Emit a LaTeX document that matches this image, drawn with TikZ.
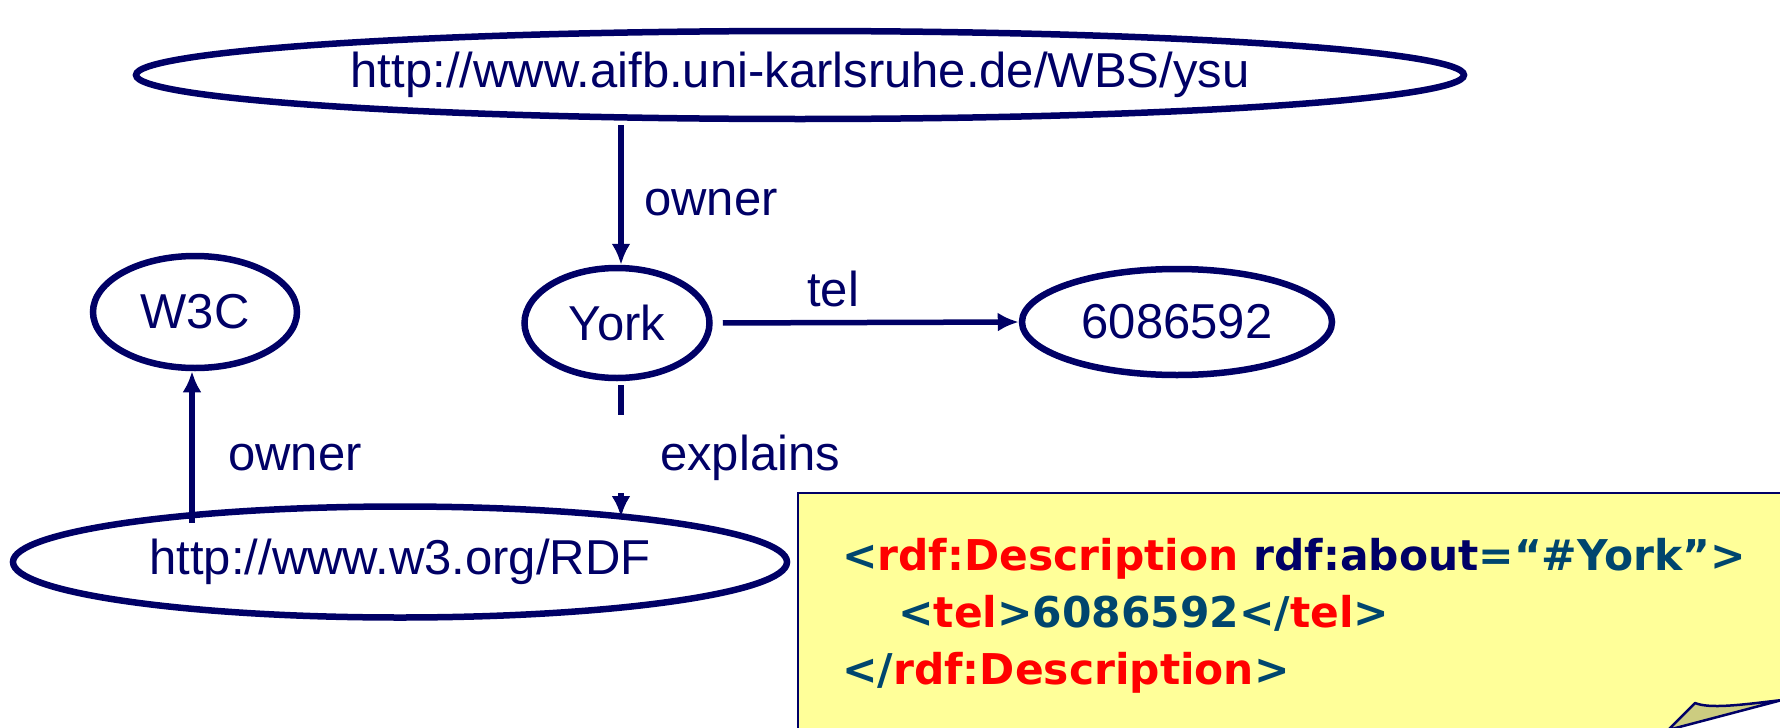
\documentclass[tikz,border=0pt]{standalone}
\usepackage{xcolor}
\usepackage{fontspec}
\setmainfont{Liberation Sans}
\newfontfamily\xmlfont{DejaVu Sans}
\usepackage{tikz}
\usetikzlibrary{shapes}
\usetikzlibrary{arrows.meta}
\usetikzlibrary{calc}

\definecolor{rdfnavy}{RGB}{0,0,102}
\definecolor{xmlteal}{RGB}{0,70,110}
\definecolor{xmlred}{RGB}{255,0,0}
\definecolor{noteyellow}{RGB}{255,255,153}
\definecolor{curlolive}{RGB}{204,204,128}

\begin{document}
\begin{tikzpicture}[x=1pt,y=-1pt,
  res/.style={ellipse,draw=rdfnavy,line width=6.5pt,inner sep=0pt,text=rdfnavy,font=\fontsize{49}{58}\selectfont},
  prop/.style={draw=rdfnavy,line width=5.5pt,-{Latex[length=21pt,width=19pt]}},
  proplabel/.style={anchor=base west,inner sep=0pt,text=rdfnavy,font=\fontsize{49}{58}\selectfont},
  xmlline/.style={anchor=base west,inner sep=0pt,font=\xmlfont\bfseries\fontsize{42.4}{57}\selectfont}]

\useasboundingbox (0,0) rectangle (1780,728);

%RESOURCES
\node[res,minimum width=1328pt,minimum height=88pt](ysu-node) at(800,75){http://www.aifb.uni-karlsruhe.de/WBS/ysu};
\node[res,minimum width=185pt,minimum height=110pt](York-node) at(617,323){York};
\node[res,minimum width=310pt,minimum height=106pt](tel-node) at(1177,322){6086592};
\node[res,minimum width=204pt,minimum height=112pt](W3C-node) at(195,312){W3C};
\node[res,minimum width=774pt,minimum height=111pt](RDF-node) at(400,562){http://www.w3.org/RDF};

%PROPERTIES
\coordinate (ysu-out) at (621,125);
\draw[prop] (ysu-out) -- (ysu-out |- York-node.north);
\draw[prop,shorten <=10pt] (York-node.east) -- (tel-node.west);
\coordinate (rdf-in) at (621,517);
\draw[prop,shorten <=4pt,dash pattern=on 30pt off 78pt on 60pt] (York-node.south -| rdf-in) -- (rdf-in);
\coordinate (rdf-out) at (192,523);
\draw[prop] (rdf-out) -- (rdf-out |- W3C-node.south);

%LABELs
\node[proplabel](owner-top-label) at(644,215){owner};
\node[proplabel](tel-label) at(807,306){tel};
\node[proplabel](owner-left-label) at(228,470){owner};
\node[proplabel](explains-label) at(660,470){explains};

%XML NOTE
\draw[fill=noteyellow,draw=rdfnavy,line width=2.5pt] (798,493) rectangle (1786,734);
\node[xmlline](xml-line1) at(842,570){\textcolor{xmlteal}{<}\textcolor{xmlred}{rdf:Description} \textcolor{rdfnavy}{rdf:about}\textcolor{xmlteal}{=“\#York”>}};
\node[xmlline](xml-line2) at(898,627){\textcolor{xmlteal}{<}\textcolor{xmlred}{tel}\textcolor{xmlteal}{>6086592</}\textcolor{xmlred}{tel}\textcolor{xmlteal}{>}};
\node[xmlline](xml-line3) at(842,684){\textcolor{xmlteal}{</}\textcolor{xmlred}{rdf:Description}\textcolor{xmlteal}{>}};

%Curl
\fill[white] (1668,730) -- (1786,697) -- (1786,734) -- cycle;
\draw[fill=curlolive,draw=rdfnavy,line width=2.5pt,line join=round] (1668,730) -- (1695,703) .. controls (1710,709) and (1740,705) .. (1782,700) -- cycle;

\end{tikzpicture}
\end{document}
